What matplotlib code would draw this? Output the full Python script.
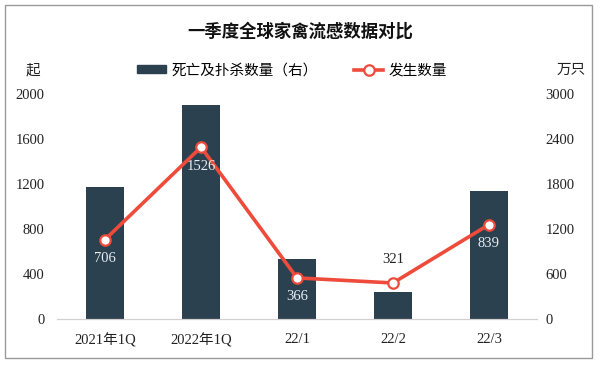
import matplotlib
matplotlib.use("Agg")
import matplotlib.pyplot as plt
from matplotlib.patches import Rectangle
from matplotlib.lines import Line2D

plt.rcParams['font.family'] = ['Liberation Serif', 'Noto Sans CJK SC', 'DejaVu Sans']

categories = ['2021年1Q', '2022年1Q', '22/1', '22/2', '22/3']
deaths = [1760, 2855, 795, 355, 1705]          # 万只, right axis
outbreaks = [706, 1526, 366, 321, 839]         # 起, left axis
left_ticks = [0, 400, 800, 1200, 1600, 2000]
right_ticks = [0, 600, 1200, 1800, 2400, 3000]

bar_color = '#2C4150'
line_color = '#EE4B3B'
text_color = '#222222'

fig = plt.figure(figsize=(6.0, 3.66), dpi=100)
fig.patch.set_facecolor('white')
# outer frame
fig.add_artist(Rectangle((0.009, 0.022), 0.978, 0.963, transform=fig.transFigure,
                         fill=False, edgecolor='#9a9a9a', linewidth=1.0))

ax = fig.add_axes([0.095, 0.128, 0.80, 0.616])
ax2 = ax.twinx()
x = list(range(len(categories)))

ax2.bar(x, deaths, width=0.39, color=bar_color, zorder=1)
ax2.set_ylim(0, 3000)
ax2.set_yticks(right_ticks)

ax.set_zorder(ax2.get_zorder() + 1)
ax.patch.set_visible(False)
ax.plot(x, outbreaks, color=line_color, linewidth=2.6, marker='o', markersize=7.5,
        markerfacecolor='white', markeredgecolor=line_color, markeredgewidth=1.6, zorder=3)
ax.set_ylim(0, 2000)
ax.set_yticks(left_ticks)
ax.set_xlim(-0.5, len(categories) - 0.5)
ax.set_xticks(x)
ax.set_xticklabels(categories)

for a in (ax, ax2):
    for s in ('top', 'left', 'right'):
        a.spines[s].set_visible(False)
    a.spines['bottom'].set_color('#d0d0d0')
    a.tick_params(length=0, labelsize=10.5, colors=text_color)
ax.tick_params(axis='y', pad=9)
ax.tick_params(axis='x', pad=10)
ax2.tick_params(axis='y', pad=6)

# data labels
for i, v in enumerate(outbreaks):
    if i == 3:
        ax.annotate(str(v), (i, v), xytext=(0, 12), textcoords='offset points',
                    ha='center', va='bottom', fontsize=10.5, color=text_color)
    else:
        ax.annotate(str(v), (i, v), xytext=(0, -9), textcoords='offset points',
                    ha='center', va='top', fontsize=10.5, color='#e8eef2')

fig.text(0.5, 0.912, '一季度全球家禽流感数据对比', ha='center', va='center',
         fontsize=12.5, fontweight='bold', color='#111111')
fig.text(0.055, 0.808, '起', ha='center', va='center', fontsize=10.5, color=text_color)
fig.text(0.952, 0.808, '万只', ha='center', va='center', fontsize=10.5, color=text_color)

handles = [Rectangle((0, 0), 1, 1, color=bar_color),
           Line2D([], [], color=line_color, linewidth=2.6, marker='o', markersize=7.5,
                  markerfacecolor='white', markeredgecolor=line_color, markeredgewidth=1.6)]
fig.legend(handles, ['死亡及扑杀数量（右）', '发生数量'], loc='center',
           bbox_to_anchor=(0.487, 0.808), ncol=2, frameon=False, fontsize=10.5,
           handlelength=2.0, handleheight=0.45, columnspacing=2.5, handletextpad=0.35)

fig.savefig('out.png', dpi=100, facecolor='white')
